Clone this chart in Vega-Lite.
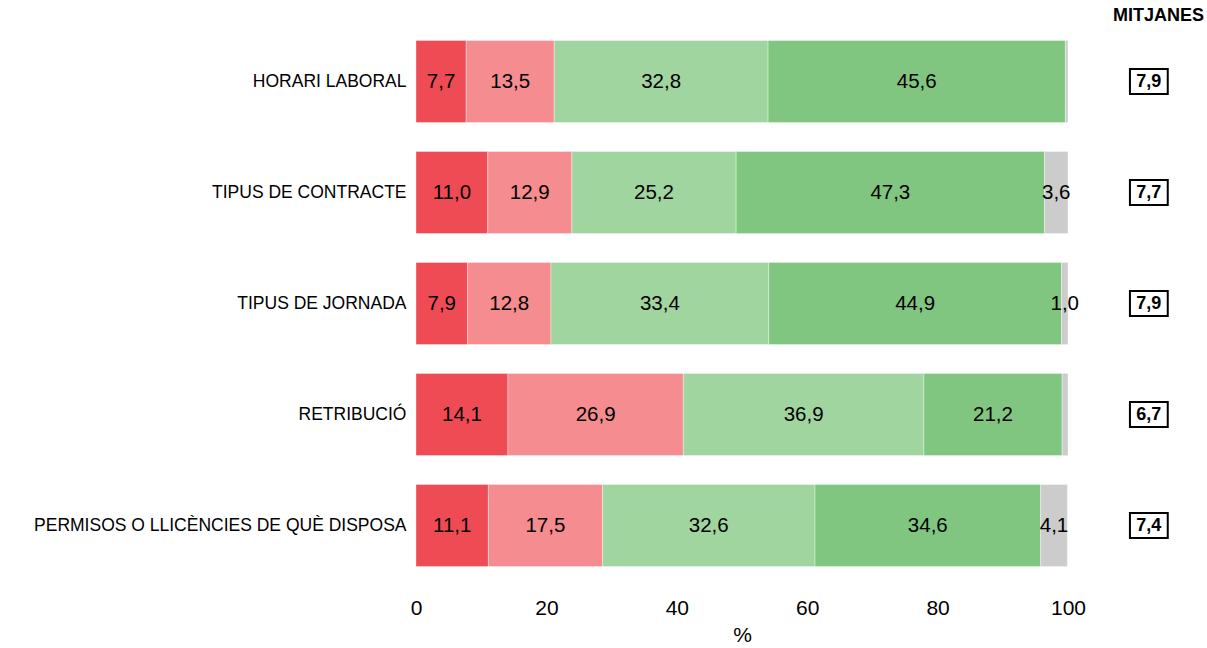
{
  "$schema": "https://vega.github.io/schema/vega-lite/v6.json",
  "width": 652,
  "height": 555,
  "autosize": {"type": "none"},
  "padding": {"left": 416, "top": 26, "right": 139, "bottom": 67},
  "background": "white",
  "config": {
    "font": "Liberation Sans",
    "view": {"stroke": null},
    "locale": {"number": {"decimal": ",", "thousands": ".", "grouping": [3], "currency": ["", " €"]}}
  },
  "title": {"text": "MITJANES", "anchor": "end", "frame": "group", "dx": 136, "fontSize": 18, "fontWeight": "bold", "offset": 1, "font": "Liberation Sans", "color": "black"},
  "datasets": {
    "bars": [
      {"cat": "HORARI LABORAL", "cls": 1, "value": 7.7},
      {"cat": "HORARI LABORAL", "cls": 2, "value": 13.5},
      {"cat": "HORARI LABORAL", "cls": 3, "value": 32.8},
      {"cat": "HORARI LABORAL", "cls": 4, "value": 45.6},
      {"cat": "HORARI LABORAL", "cls": 5, "value": 0.4},
      {"cat": "TIPUS DE CONTRACTE", "cls": 1, "value": 11.0},
      {"cat": "TIPUS DE CONTRACTE", "cls": 2, "value": 12.9},
      {"cat": "TIPUS DE CONTRACTE", "cls": 3, "value": 25.2},
      {"cat": "TIPUS DE CONTRACTE", "cls": 4, "value": 47.3},
      {"cat": "TIPUS DE CONTRACTE", "cls": 5, "value": 3.6},
      {"cat": "TIPUS DE JORNADA", "cls": 1, "value": 7.9},
      {"cat": "TIPUS DE JORNADA", "cls": 2, "value": 12.8},
      {"cat": "TIPUS DE JORNADA", "cls": 3, "value": 33.4},
      {"cat": "TIPUS DE JORNADA", "cls": 4, "value": 44.9},
      {"cat": "TIPUS DE JORNADA", "cls": 5, "value": 1.0},
      {"cat": "RETRIBUCIÓ", "cls": 1, "value": 14.1},
      {"cat": "RETRIBUCIÓ", "cls": 2, "value": 26.9},
      {"cat": "RETRIBUCIÓ", "cls": 3, "value": 36.9},
      {"cat": "RETRIBUCIÓ", "cls": 4, "value": 21.2},
      {"cat": "RETRIBUCIÓ", "cls": 5, "value": 0.9},
      {"cat": "PERMISOS O LLICÈNCIES DE QUÈ DISPOSA", "cls": 1, "value": 11.1},
      {"cat": "PERMISOS O LLICÈNCIES DE QUÈ DISPOSA", "cls": 2, "value": 17.5},
      {"cat": "PERMISOS O LLICÈNCIES DE QUÈ DISPOSA", "cls": 3, "value": 32.6},
      {"cat": "PERMISOS O LLICÈNCIES DE QUÈ DISPOSA", "cls": 4, "value": 34.6},
      {"cat": "PERMISOS O LLICÈNCIES DE QUÈ DISPOSA", "cls": 5, "value": 4.1}
    ],
    "means": [
      {"cat": "HORARI LABORAL", "mean": 7.9},
      {"cat": "TIPUS DE CONTRACTE", "mean": 7.7},
      {"cat": "TIPUS DE JORNADA", "mean": 7.9},
      {"cat": "RETRIBUCIÓ", "mean": 6.7},
      {"cat": "PERMISOS O LLICÈNCIES DE QUÈ DISPOSA", "mean": 7.4}
    ]
  },
  "encoding": {
    "y": {
      "field": "cat", "type": "nominal", "sort": null,
      "scale": {"paddingInner": 0.26, "paddingOuter": 0.13},
      "axis": {"title": null, "domain": false, "ticks": false, "labelPadding": 10, "labelFontSize": 17.5, "labelColor": "black", "labelLimit": 420, "labelFont": "Liberation Sans"}
    }
  },
  "layer": [
    {
      "data": {"name": "bars"},
      "mark": {"type": "bar", "stroke": "white", "strokeWidth": 0.6, "strokeOpacity": 0.6},
      "encoding": {
        "x": {
          "field": "value", "type": "quantitative", "stack": "zero",
          "scale": {"domain": [0, 100], "nice": false},
          "axis": {"title": "%", "titleFontSize": 21, "titleFontWeight": "normal", "titleColor": "black", "titlePadding": 6, "values": [0, 20, 40, 60, 80, 100], "grid": false, "domain": false, "ticks": false, "labelPadding": 16, "labelFontSize": 21, "labelColor": "black", "labelFlush": false}
        },
        "color": {
          "field": "cls", "type": "ordinal",
          "scale": {"domain": [1, 2, 3, 4, 5], "range": ["#EF4B55", "#F48C90", "#A0D5A0", "#80C680", "#CCCCCC"]},
          "legend": null
        },
        "order": {"field": "cls", "type": "quantitative"}
      }
    },
    {
      "data": {"name": "bars"},
      "transform": [
        {"stack": "value", "groupby": ["cat"], "sort": [{"field": "cls", "order": "ascending"}], "as": ["x0", "x1"]},
        {"filter": "datum.value >= 1"},
        {"calculate": "(datum.x0 + datum.x1) / 2", "as": "mid"}
      ],
      "mark": {"type": "text", "fontSize": 20.5, "color": "black", "align": "center", "baseline": "middle"},
      "encoding": {
        "x": {"field": "mid", "type": "quantitative"},
        "text": {"field": "value", "type": "quantitative", "format": ".1f"}
      }
    },
    {
      "data": {"name": "means"},
      "mark": {"type": "bar", "height": 25, "fill": "white", "stroke": "black", "strokeWidth": 2},
      "encoding": {
        "x": {"datum": 109.5},
        "x2": {"datum": 115.3}
      }
    },
    {
      "data": {"name": "means"},
      "mark": {"type": "text", "fontSize": 18, "fontWeight": "bold", "color": "black", "align": "center", "baseline": "middle"},
      "encoding": {
        "x": {"datum": 112.4},
        "text": {"field": "mean", "type": "quantitative", "format": ".1f"}
      }
    }
  ]
}
